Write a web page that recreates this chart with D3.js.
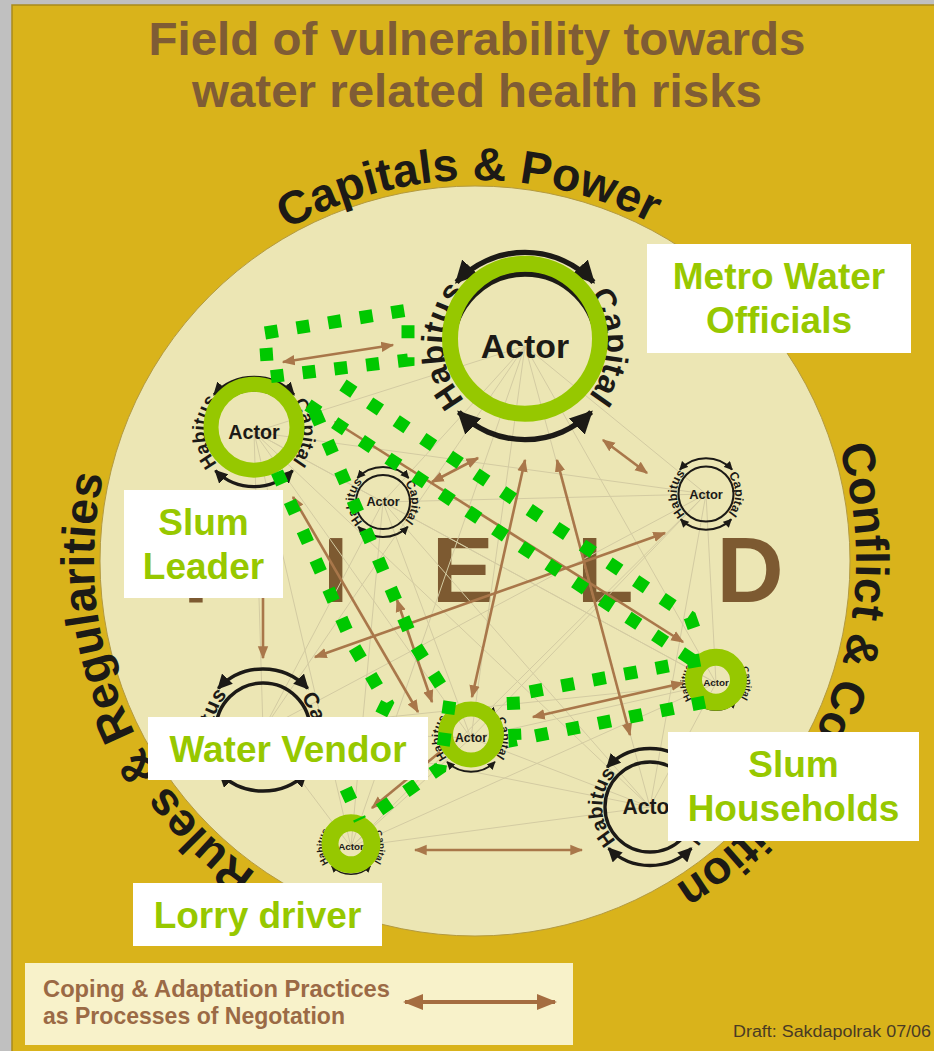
<!DOCTYPE html>
<html>
<head>
<meta charset="utf-8">
<script src="https://cdn.jsdelivr.net/npm/d3@7"></script>
<style>
  html, body { margin: 0; padding: 0; background: #c0c0c0; }
  svg { display: block; }
  text { font-family: "Liberation Sans", Arial, sans-serif; font-weight: bold; }
</style>
</head>
<body>
<script>
var width = 934,
  height = 1051,
  cx = 475,
  cy = 561,
  R = 375;

// Title and ring headings
var titleLines = ["Field of vulnerability towards", "water related health risks"];
var ringTitles = ["Capitals & Power", "Conflict & Competition", "Rules & Regularities"];
var ringAngles = [-1, 110.5, 249]; // degrees clockwise from top
var fieldWord = "FIELD";

// Actors, placed in field units (px from the centre of the field)
var actorIds = ["metro", "leader", "c1", "c2", "c3", "c4", "vendor", "households", "lorry"];
var actorX = [50, -221, -92, 231, -212, 175, -4, 241, -124];
var actorY = [-215, -129, -59, -67, 169, 246, 177, 122, 286];
var actorR = [72, 42, 27, 27.5, 47, 45, 26, 21, 21];

// Actors highlighted by a green ring
var highlightIdx = [0, 1, 6, 7, 8];
var ringR = [75, 43, 25.5, 22.5, 21];
var ringW = [16, 15, 15, 17, 17];

// Negotiation arrows: [x1, y1, x2, y2, doubleHeaded]
var negotiations = [
  [-192, -199, -82, -216, 1],
  [-140, -139, 208, 81, 1],
  [-43, -79, 3, -103, 1],
  [-3, 136, 50, -101, 1],
  [155, 174, 82, -101, 1],
  [128, -121, 172, -88, 1],
  [-212, 14, -212, 97, 0],
  [-182, -64, -57, 151, 1],
  [-78, 39, -43, 141, 1],
  [-160, 96, 190, -28, 1],
  [58, 156, 208, 122, 1],
  [-35, 191, -103, 247, 0],
  [-60, 289, 107, 289, 1]
];

// Green dotted links between the highlighted actors
var greenLinks = [
  [[-210, -228], [-67, -251], [-67, -201], [-207, -184], [-210, -228]],
  [[-132, -176], [215, 56], [225, 84]],
  [[-167, -156], [225, 104]],
  [[-198, -89], [-122, 84], [-88, 142], [-130, 226], [-115, 259]],
  [[-160, -149], [-60, 84], [-25, 139], [-35, 207], [-110, 259]],
  [[225, 99], [38, 134], [40, 179], [230, 141]]
];

// Label boxes: text lines and box [x, y, w, h] in field units
var labelLines = [["Metro Water", "Officials"], ["Slum", "Leader"], ["Water Vendor"], ["Slum", "Households"], ["Lorry driver"]];
var labelBoxes = [[172, -317, 264, 109], [-351, -71, 159, 108], [-327, 156, 280, 63], [193, 171, 251, 109], [-342, 322, 249, 63]];

var x = d3.scaleLinear().domain([-R, R]).range([cx - R, cx + R]);
var y = d3.scaleLinear().domain([-R, R]).range([cy - R, cy + R]);

var svg = d3.select("body").append("svg")
  .attr("width", width)
  .attr("height", height);

var defs = svg.append("defs");

function addMarker(id, color, size, shape) {
  defs.append("marker")
    .attr("id", id)
    .attr("viewBox", "0 -5 10 10")
    .attr("refX", 9)
    .attr("refY", 0)
    .attr("markerWidth", size)
    .attr("markerHeight", size)
    .attr("orient", "auto-start-reverse")
    .append("path")
    .attr("d", shape)
    .attr("fill", color);
}
addMarker("blackHead", "#1c1a16", 4.2, "M0,-5L10,0L0,5Z");
addMarker("brownHead", "#a9774a", 5, "M0,-4L10,0L0,4Z");
addMarker("legendHead", "#a56d40", 5, "M0,-4L10,0L0,4Z");

// Frame
svg.append("rect")
  .attr("x", 12).attr("y", 5)
  .attr("width", width).attr("height", height)
  .attr("fill", "#d9b31b")
  .attr("stroke", "#a88a1c")
  .attr("stroke-width", 1.5);

// Title
svg.append("g").selectAll("text")
  .data(titleLines)
  .enter()
  .append("text")
  .attr("x", 477)
  .attr("y", function (d, i) { return 55 + i * 52; })
  .attr("text-anchor", "middle")
  .attr("font-size", 47)
  .attr("textLength", function (d, i) { return i === 0 ? 657 : 570; })
  .attr("lengthAdjust", "spacingAndGlyphs")
  .attr("fill", "#7f5c35")
  .text(function (d) { return d; });

// The field
svg.append("circle")
  .attr("cx", x(0)).attr("cy", y(0))
  .attr("r", x(R) - x(0))
  .attr("fill", "#ece6b4")
  .attr("stroke", "#b39a40")
  .attr("stroke-width", 1);

// Headings around the field
function polar(r, deg) {
  var a = deg * Math.PI / 180;
  return [r * Math.sin(a), -r * Math.cos(a)];
}

var rt = 381;
ringTitles.forEach(function (t, i) {
  var p0 = polar(rt, ringAngles[i] - 175),
    p1 = polar(rt, ringAngles[i] + 175);
  defs.append("path")
    .attr("id", "ring" + i)
    .attr("d", "M" + x(p0[0]) + "," + y(p0[1]) +
      "A" + rt + "," + rt + " 0 1 1 " + x(p1[0]) + "," + y(p1[1]));
  svg.append("text")
    .attr("font-size", 46.5)
    .attr("fill", "#1c1a16")
    .append("textPath")
    .attr("href", "#ring" + i)
    .attr("startOffset", "50%")
    .attr("text-anchor", "middle")
    .text(t);
});

// FIELD
svg.append("text")
  .attr("x", x(-292))
  .attr("y", y(41))
  .attr("font-size", 93)
  .attr("letter-spacing", 83)
  .attr("fill", "#7d5a31")
  .text(fieldWord);

var actors = actorIds.map(function (id, i) {
  return { id: id, x: x(actorX[i]), y: y(actorY[i]), r: actorR[i], labelR: actorR[i] * 1.06 };
});
// labels of highlighted actors sit at the outer edge of their green ring
highlightIdx.forEach(function (a, i) {
  actors[a].labelR = Math.max(actors[a].labelR, ringR[i] + ringW[i] / 2 - 2);
});

// Network of relations between all actors
var pairs = [];
actors.forEach(function (a, i) {
  actors.forEach(function (b, j) { if (j > i) pairs.push([a, b]); });
});
svg.append("g")
  .selectAll("line")
  .data(pairs)
  .enter()
  .append("line")
  .attr("x1", function (d) { return d[0].x; })
  .attr("y1", function (d) { return d[0].y; })
  .attr("x2", function (d) { return d[1].x; })
  .attr("y2", function (d) { return d[1].y; })
  .attr("stroke", "#d3cba2")
  .attr("stroke-width", 1);

// Negotiation arrows
svg.append("g")
  .selectAll("line")
  .data(negotiations)
  .enter()
  .append("line")
  .attr("x1", function (d) { return x(d[0]); })
  .attr("y1", function (d) { return y(d[1]); })
  .attr("x2", function (d) { return x(d[2]); })
  .attr("y2", function (d) { return y(d[3]); })
  .attr("stroke", "#a9774a")
  .attr("stroke-width", 2.6)
  .attr("marker-end", "url(#brownHead)")
  .attr("marker-start", function (d) { return d[4] ? "url(#brownHead)" : null; });

// Actor glyphs
function arcPath(r, a0, a1) {
  var p0 = polar(r, a0), p1 = polar(r, a1);
  return "M" + p0[0] + "," + p0[1] + "A" + r + "," + r + " 0 0 1 " + p1[0] + "," + p1[1];
}

var glyph = svg.append("g")
  .selectAll("g")
  .data(actors)
  .enter()
  .append("g")
  .attr("transform", function (d) { return "translate(" + d.x + "," + d.y + ")"; });

glyph.append("circle")
  .attr("r", function (d) { return d.r; })
  .attr("fill", "none")
  .attr("stroke", "#1c1a16")
  .attr("stroke-width", function (d) { return d.r * 0.075; });

glyph.append("text")
  .attr("text-anchor", "middle")
  .attr("dy", "0.35em")
  .attr("font-size", function (d) { return d.r * 0.47; })
  .attr("fill", "#1c1a16")
  .text("Actor");

glyph.selectAll("path.arc")
  .data(function (d) { return [[d.r, -47, 47], [d.r, 135, 225]]; })
  .enter()
  .append("path")
  .attr("class", "arc")
  .attr("d", function (d) { return arcPath(d[0] * 1.3, d[1], d[2]); })
  .attr("fill", "none")
  .attr("stroke", "#1c1a16")
  .attr("stroke-width", function (d) { return d[0] * 0.075; })
  .attr("marker-start", "url(#blackHead)")
  .attr("marker-end", "url(#blackHead)");

glyph.append("path")
  .attr("id", function (d) { return "lp-" + d.id; })
  .attr("fill", "none")
  .attr("d", function (d) {
    var r = d.labelR;
    return "M0," + (-r) + "A" + r + "," + r + " 0 1 1 0," + r + "A" + r + "," + r + " 0 1 1 0," + (-r);
  });

glyph.selectAll("text.lab")
  .data(function (d) { return [[d, "Capital", "25%"], [d, "Habitus", "75%"]]; })
  .enter()
  .append("text")
  .attr("class", "lab")
  .attr("font-size", function (d) { return d[0].r * 0.45; })
  .attr("fill", "#1c1a16")
  .append("textPath")
  .attr("href", function (d) { return "#lp-" + d[0].id; })
  .attr("startOffset", function (d) { return d[2]; })
  .attr("text-anchor", "middle")
  .text(function (d) { return d[1]; });

// Green rings for the actors of the case study
svg.append("g")
  .selectAll("circle")
  .data(highlightIdx)
  .enter()
  .append("circle")
  .attr("cx", function (d) { return actors[d].x; })
  .attr("cy", function (d) { return actors[d].y - (actors[d].r * 0.08 + 1.5); })
  .attr("r", function (d, i) { return ringR[i]; })
  .attr("fill", "none")
  .attr("stroke", "#96c800")
  .attr("stroke-width", function (d, i) { return ringW[i]; });

// Dotted links
var line = d3.line()
  .x(function (d) { return x(d[0]); })
  .y(function (d) { return y(d[1]); });

svg.append("g")
  .selectAll("path")
  .data(greenLinks)
  .enter()
  .append("path")
  .attr("d", line)
  .attr("fill", "none")
  .attr("stroke", "#00c800")
  .attr("stroke-width", 13)
  .attr("stroke-dasharray", "13 19");

// Label boxes
var label = svg.append("g")
  .selectAll("g")
  .data(labelLines)
  .enter()
  .append("g");

label.append("rect")
  .attr("x", function (d, i) { return x(labelBoxes[i][0]); })
  .attr("y", function (d, i) { return y(labelBoxes[i][1]); })
  .attr("width", function (d, i) { return labelBoxes[i][2]; })
  .attr("height", function (d, i) { return labelBoxes[i][3]; })
  .attr("fill", "#ffffff");

label.each(function (lines, i) {
  var b = labelBoxes[i];
  d3.select(this).selectAll("text")
    .data(lines)
    .enter()
    .append("text")
    .attr("x", x(b[0]) + b[2] / 2)
    .attr("y", function (d, j) { return y(b[1]) + 45 + j * 44; })
    .attr("text-anchor", "middle")
    .attr("font-size", 37)
    .attr("fill", "#97c800")
    .text(function (d) { return d; });
});

// Legend
var legendLines = ["Coping & Adaptation Practices", "as Processes of Negotation"];
var legend = svg.append("g");
legend.append("rect")
  .attr("x", 25).attr("y", 963)
  .attr("width", 548).attr("height", 82)
  .attr("fill", "#f8f2ca");
legend.selectAll("text")
  .data(legendLines)
  .enter()
  .append("text")
  .attr("x", 43)
  .attr("y", function (d, i) { return 997 + i * 27; })
  .attr("font-size", 24)
  .attr("textLength", function (d, i) { return i === 0 ? 347 : 302; })
  .attr("lengthAdjust", "spacingAndGlyphs")
  .attr("fill", "#9b6a45")
  .text(function (d) { return d; });
legend.append("line")
  .attr("x1", 405).attr("y1", 1002)
  .attr("x2", 555).attr("y2", 1002)
  .attr("stroke", "#a56d40")
  .attr("stroke-width", 4)
  .attr("marker-start", "url(#legendHead)")
  .attr("marker-end", "url(#legendHead)");

svg.append("text")
  .attr("x", 733)
  .attr("y", 1037)
  .attr("font-size", 16)
  .attr("textLength", 198)
  .attr("lengthAdjust", "spacingAndGlyphs")
  .attr("fill", "#4a3b24")
  .style("font-weight", "normal")
  .text("Draft: Sakdapolrak 07/06");
</script>
</body>
</html>
